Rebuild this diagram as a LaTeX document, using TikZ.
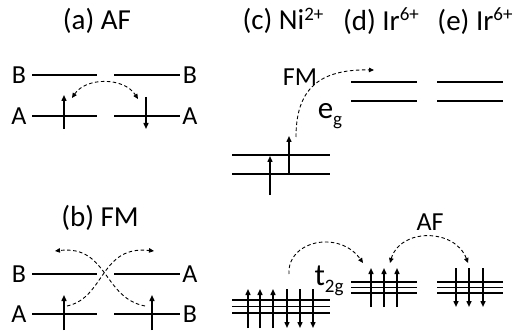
\documentclass[tikz,border=0pt]{standalone}
\usepackage{fontspec}
\setmainfont{Carlito}
\usetikzlibrary{arrows.meta}
\newcommand\lowtxt[1]{\raisebox{-0.5ex}{\fontsize{19}{19}\selectfont #1}}
\newcommand\hightxt[1]{\raisebox{0.7ex}{\fontsize{19}{19}\selectfont #1}}
\begin{document}
\begin{tikzpicture}[x=1pt,y=-1pt,
  lvl/.style={line width=1.6pt},
  spin/.style={line width=1.4pt,-{Triangle[length=6pt,width=5pt]}},
  hop/.style={line width=0.9pt,dash pattern=on 3.5pt off 2.5pt,-{Triangle[length=5pt,width=4.5pt]}},
  hopboth/.style={line width=0.9pt,dash pattern=on 3.5pt off 2.5pt,{Triangle[length=5pt,width=4.5pt]}-{Triangle[length=5pt,width=4.5pt]}},
  title/.style={font=\fontsize{29}{33}\selectfont,inner sep=0pt},
  lab/.style={font=\fontsize{26}{30}\selectfont,inner sep=0pt},
  orb/.style={font=\fontsize{31}{35}\selectfont,inner sep=0pt}]
\useasboundingbox (0,0) rectangle (524,331);

% ---------- (a) AF ----------
\node[title] (ta) at (97,21) {(a) AF};
\node[lab] (aB1) at (19,75) {B};
\node[lab] (aB2) at (190,75) {B};
\node[lab] (aA1) at (19,116) {A};
\node[lab] (aA2) at (190,116) {A};
\draw[lvl] (32,75) -- (97,75);
\draw[lvl] (114,75) -- (180,75);
\draw[lvl] (32,116) -- (97,116);
\draw[lvl] (114,116) -- (180,116);
\coordinate (aU0) at (64,129); \coordinate (aU1) at (64,95);
\coordinate (aD0) at (146,97); \coordinate (aD1) at (146,129);
\draw[spin] (aU0) -- (aU1);
\draw[spin] (aD0) -- (aD1);
\coordinate (ah1) at (72,98); \coordinate (ah2) at (138,99);
\draw[hopboth] (ah1) .. controls (86,77) and (124,77) .. (ah2);

% ---------- (b) FM ----------
\node[title] (tb) at (100,218) {(b) FM};
\node[lab] (bB1) at (19,274) {B};
\node[lab] (bA1) at (190,274) {A};
\node[lab] (bA2) at (19,314) {A};
\node[lab] (bB2) at (190,314) {B};
\draw[lvl] (32,274) -- (97,274);
\draw[lvl] (114,274) -- (180,274);
\draw[lvl] (32,314) -- (97,314);
\draw[lvl] (114,314) -- (180,314);
\coordinate (bU0) at (64,330); \coordinate (bU1) at (64,295);
\coordinate (bV0) at (152,330); \coordinate (bV1) at (152,295);
\draw[spin] (bU0) -- (bU1);
\draw[spin] (bV0) -- (bV1);
\coordinate (bh1) at (67,306); \coordinate (bh2) at (154,251);
\coordinate (bh3) at (145,306); \coordinate (bh4) at (55,251);
\draw[hop] (bh1) .. controls (105,298) and (100,245) .. (bh2);
\draw[hop] (bh3) .. controls (103,298) and (108,245) .. (bh4);

% ---------- titles (c)(d)(e) ----------
\node[title] (tc) at (283,21) {(c) Ni\hightxt{2+}};
\node[title] (td) at (381,21) {(d) Ir\hightxt{6+}};
\node[title] (te) at (475,21) {(e) Ir\hightxt{6+}};

% ---------- Ni e_g ----------
\draw[lvl] (232,155) -- (330,155);
\draw[lvl] (232,174) -- (330,174);
\coordinate (cU0) at (270,195); \coordinate (cU1) at (270,156);
\coordinate (cV0) at (289,174); \coordinate (cV1) at (289,136);
\draw[spin] (cU0) -- (cU1);
\draw[spin] (cV0) -- (cV1);
\node[lab] (fm) at (300,77) {FM};
\node[orb] (eg) at (330,116) {e\lowtxt{g}};
\coordinate (ch1) at (296,137); \coordinate (ch2) at (374,70);
\draw[hop] (ch1) .. controls (296,90) and (318,69) .. (ch2);

% ---------- Ir e_g ----------
\draw[lvl] (351,82) -- (417,82);
\draw[lvl] (351,101) -- (417,101);
\draw[lvl] (437,82) -- (503,82);
\draw[lvl] (437,101) -- (503,101);

% ---------- Ni t_2g ----------
\foreach \y in {300,306.5,313} \draw[lvl] (232,\y) -- (330,\y);
\foreach \x in {248,260,273} \draw[spin] (\x,328) -- (\x,289);
\foreach \x in {287,300,313} \draw[spin] (\x,289) -- (\x,328);
\node[orb] (t2g) at (329,281) {t\lowtxt{2g}};

% ---------- Ir t_2g (d) ----------
\foreach \y in {282,287.5,293} \draw[lvl] (351,\y) -- (417,\y);
\foreach \x in {371,384,397} \draw[spin] (\x,307) -- (\x,268);

% ---------- Ir t_2g (e) ----------
\foreach \y in {282,287.5,293} \draw[lvl] (437,\y) -- (503,\y);
\foreach \x in {456,469,483} \draw[spin] (\x,268) -- (\x,307);

% ---------- t_2g hops ----------
\coordinate (th1) at (289,274); \coordinate (th2) at (363,263);
\draw[hop] (th1) .. controls (287,240) and (340,230) .. (th2);
\node[lab] (af) at (430,222) {AF};
\coordinate (th3) at (390,263); \coordinate (th4) at (468,263);
\draw[hopboth] (th3) .. controls (400,228) and (455,228) .. (th4);
\end{tikzpicture}
\end{document}
